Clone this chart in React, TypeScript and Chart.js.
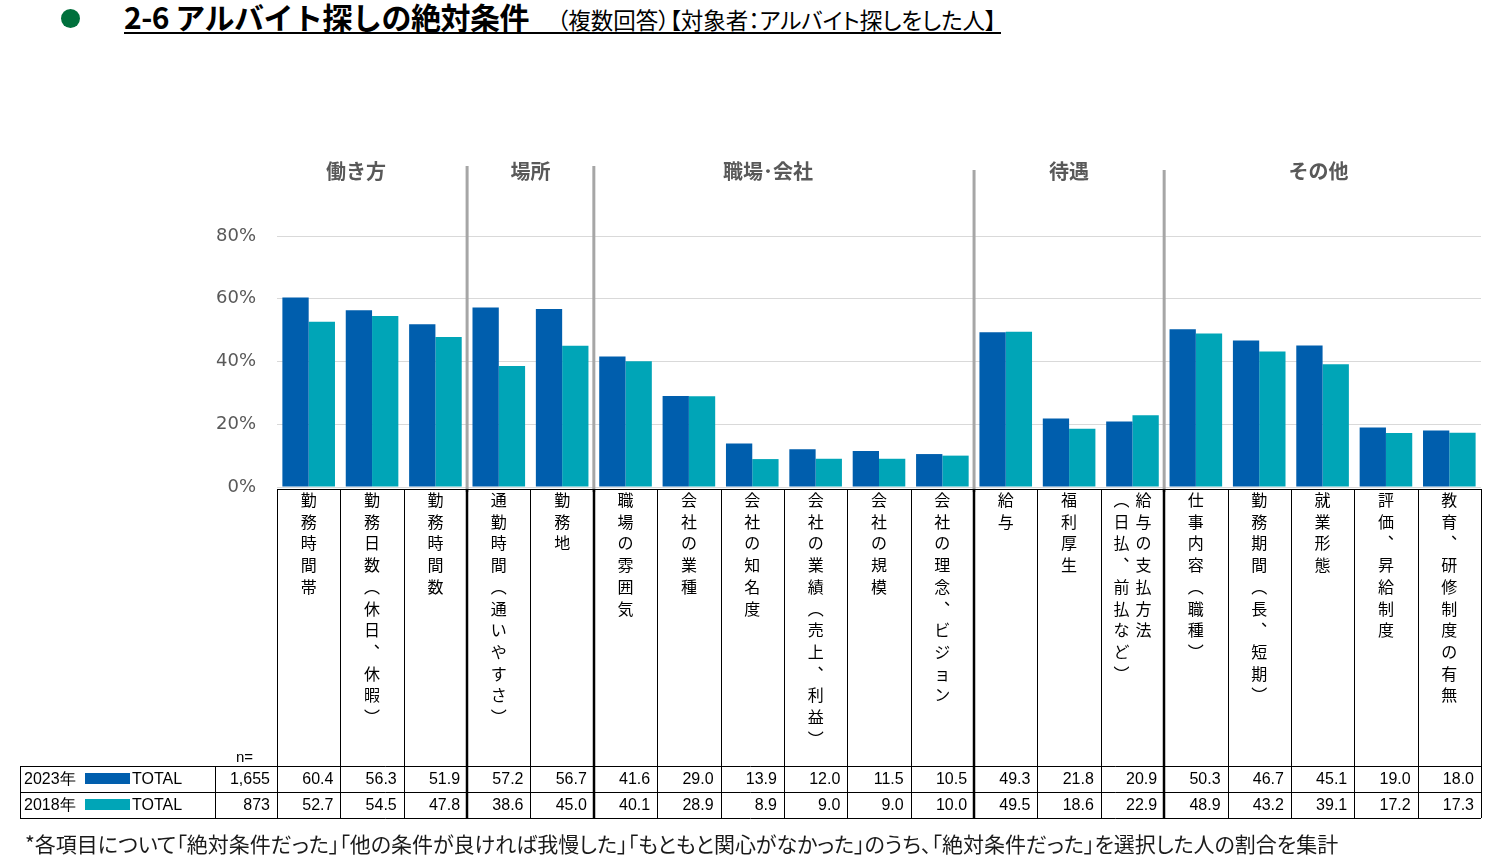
import React, { useEffect, useRef } from "react";
import { Chart, registerables } from "chart.js";

Chart.register(...registerables);

const categories = [
  "勤務時間帯",
  "勤務日数（休日、休暇）",
  "勤務時間数",
  "通勤時間（通いやすさ）",
  "勤務地",
  "職場の雰囲気",
  "会社の業種",
  "会社の知名度",
  "会社の業績（売上、利益）",
  "会社の規模",
  "会社の理念、ビジョン",
  "給与",
  "福利厚生",
  "給与の支払方法\n（日払、前払など）",
  "仕事内容（職種）",
  "勤務期間（長、短期）",
  "就業形態",
  "評価、昇給制度",
  "教育、研修制度の有無",
];

const groupNames = ["働き方", "場所", "職場･会社", "待遇", "その他"];
const groupSizes = [3, 2, 6, 3, 5];

const seriesNames = ["2023年", "2018年"];
const seriesN = ["1,655", "873"];
const values2023 = [60.4, 56.3, 51.9, 57.2, 56.7, 41.6, 29.0, 13.9, 12.0, 11.5, 10.5, 49.3, 21.8, 20.9, 50.3, 46.7, 45.1, 19.0, 18.0];
const values2018 = [52.7, 54.5, 47.8, 38.6, 45.0, 40.1, 28.9, 8.9, 9.0, 9.0, 10.0, 49.5, 18.6, 22.9, 48.9, 43.2, 39.1, 17.2, 17.3];
const yTicks = [0, 20, 40, 60, 80];

const BLUE = "#005EAD";
const TEAL = "#00A5B7";
const CJK = '"Noto Sans CJK JP", sans-serif';
const NUM = '"Liberation Sans", Arial, sans-serif';

const verticalMap: Record<string, string> = { "（": "︵", "）": "︶", "、": "︑" };
const headerShift = [-16, 0, -16, 0, -4];

const tablePlugin = {
  id: "tablePlugin",
  afterDraw(chart: any) {
    const ctx: CanvasRenderingContext2D = chart.ctx;
    const xs = chart.scales.x;
    const n = categories.length;
    const step = xs.getPixelForValue(1) - xs.getPixelForValue(0);
    const bounds: number[] = [];
    for (let i = 0; i < n; i++) bounds.push(xs.getPixelForValue(i) - step / 2);
    bounds.push(xs.getPixelForValue(n - 1) + step / 2);

    const groupEdges: number[] = [];
    let acc = 0;
    groupSizes.forEach((s) => {
      groupEdges.push(acc);
      acc += s;
    });

    ctx.save();
    // group dividers
    ctx.strokeStyle = "#A6A6A6";
    ctx.lineWidth = 3;
    for (let g = 1; g < groupSizes.length; g++) {
      const bx = bounds[groupEdges[g]];
      ctx.beginPath();
      ctx.moveTo(bx, g <= 2 ? 166 : 170);
      ctx.lineTo(bx, 492);
      ctx.stroke();
    }
    // group headers
    ctx.fillStyle = "#595959";
    ctx.font = `bold 20px ${CJK}`;
    ctx.textAlign = "center";
    ctx.textBaseline = "middle";
    groupNames.forEach((name, g) => {
      const a = bounds[groupEdges[g]];
      const b = bounds[groupEdges[g] + groupSizes[g]];
      ctx.fillText(name, (a + b) / 2 + headerShift[g], 171);
    });

    // table lines
    const topY = 489;
    const r1 = 766;
    const r2 = 792;
    const r3 = 818;
    ctx.strokeStyle = "#000";
    ctx.lineWidth = 1;
    ctx.beginPath();
    ctx.moveTo(bounds[0], topY + 0.5);
    ctx.lineTo(bounds[n], topY + 0.5);
    [r1, r2, r3].forEach((yy) => {
      ctx.moveTo(20, yy + 0.5);
      ctx.lineTo(bounds[n], yy + 0.5);
    });
    ctx.moveTo(20.5, r1);
    ctx.lineTo(20.5, r3);
    ctx.moveTo(215.5, r1);
    ctx.lineTo(215.5, r3);
    ctx.stroke();
    for (let i = 0; i <= n; i++) {
      const thick = groupEdges.includes(i) && i > 0;
      ctx.lineWidth = thick ? 2.5 : 1;
      const bx = Math.round(bounds[i]) + (thick ? 0 : 0.5);
      ctx.beginPath();
      ctx.moveTo(bx, topY);
      ctx.lineTo(bx, r3);
      ctx.stroke();
    }

    // vertical category labels
    ctx.fillStyle = "#000";
    ctx.font = `16px ${CJK}`;
    ctx.textAlign = "center";
    ctx.textBaseline = "middle";
    categories.forEach((label, i) => {
      const cx = (bounds[i] + bounds[i + 1]) / 2;
      const cols = label.split("\n");
      cols.forEach((col, j) => {
        const colX = cx + (cols.length - 1) * 11 - j * 22;
        Array.from(col).forEach((ch, k) => {
          ctx.fillText(verticalMap[ch] || ch, colX, 500 + k * 21.7);
        });
      });
    });

    // n= label
    ctx.font = `15px ${NUM}`;
    ctx.textAlign = "left";
    ctx.fillText("n=", 236, 758);

    // data rows
    const rows = [values2023, values2018];
    const colors = [BLUE, TEAL];
    rows.forEach((vals, r) => {
      const cy = r === 0 ? 780 : 806;
      ctx.font = `16px ${NUM}`;
      ctx.fillStyle = "#000";
      ctx.textAlign = "left";
      ctx.fillText(seriesNames[r], 24, cy);
      ctx.fillStyle = colors[r];
      ctx.fillRect(85, cy - 7, 45, 11);
      ctx.fillStyle = "#000";
      ctx.fillText("TOTAL", 132, cy);
      ctx.textAlign = "right";
      ctx.fillText(seriesN[r], bounds[0] - 7, cy);
      vals.forEach((v, i) => {
        ctx.fillText(v.toFixed(1), bounds[i + 1] - 7, cy);
      });
    });
    ctx.restore();
  },
};

export default function App() {
  const ref = useRef<HTMLCanvasElement | null>(null);
  useEffect(() => {
    if (!ref.current) return;
    const chart = new Chart(ref.current, {
      type: "bar",
      data: {
        labels: categories.map((c) => c.replace("\n", "")),
        datasets: [
          {
            label: "2023年 TOTAL",
            data: values2023,
            backgroundColor: BLUE,
            barPercentage: 1,
            categoryPercentage: 0.83,
          },
          {
            label: "2018年 TOTAL",
            data: values2018,
            backgroundColor: TEAL,
            barPercentage: 1,
            categoryPercentage: 0.83,
          },
        ],
      },
      options: {
        responsive: false,
        animation: false,
        layout: { padding: { top: 236, bottom: 865 - 487, left: 0, right: 11 } },
        plugins: { legend: { display: false }, tooltip: { enabled: false } },
        scales: {
          x: { display: false },
          y: {
            min: 0,
            max: 80,
            afterBuildTicks: (s: any) => {
              s.ticks = yTicks.map((v) => ({ value: v }));
            },
            afterFit: (s: any) => {
              s.width = 277;
            },
            ticks: {
              padding: 21,
              color: "#595959",
              font: { size: 18, family: '"DejaVu Sans", sans-serif' },
              callback: (v: any) => `${v}%`,
            },
            grid: { color: "#D9D9D9", drawTicks: false },
            border: { display: false },
          },
        },
      },
      plugins: [tablePlugin],
    });
    return () => chart.destroy();
  }, []);

  return (
    <div style={{ position: "absolute", left: 0, top: 0, width: 1492, height: 865, background: "#fff" }}>
      <div
        style={{
          position: "absolute",
          left: 61,
          top: 9,
          width: 19,
          height: 19,
          borderRadius: "50%",
          background: "#00703C",
        }}
      />
      <div
        style={{
          position: "absolute",
          left: 124,
          top: 0,
          width: 877,
          height: 32,
          lineHeight: "32px",
          borderBottom: "2px solid #000",
          fontFamily: CJK,
          color: "#000",
          whiteSpace: "nowrap",
        }}
      >
        <span style={{ fontSize: 30, fontWeight: "bold", letterSpacing: -0.5 }}>2-6 アルバイト探しの絶対条件</span>
        <span style={{ fontSize: 22.5, marginLeft: 28, fontFeatureSettings: '"palt"' }}>
          （複数回答）【対象者：アルバイト探しをした人】
        </span>
      </div>
      <canvas ref={ref} width={1492} height={865} style={{ position: "absolute", left: 0, top: 0 }} />
      <div
        style={{
          position: "absolute",
          left: 25,
          top: 829,
          lineHeight: "28px",
          fontSize: 21,
          fontFamily: CJK,
          color: "#1A1A1A",
          whiteSpace: "nowrap",
          fontFeatureSettings: '"palt"',
        }}
      >
        *各項目について「絶対条件だった」「他の条件が良ければ我慢した」「もともと関心がなかった」のうち、「絶対条件だった」を選択した人の割合を集計
      </div>
    </div>
  );
}
